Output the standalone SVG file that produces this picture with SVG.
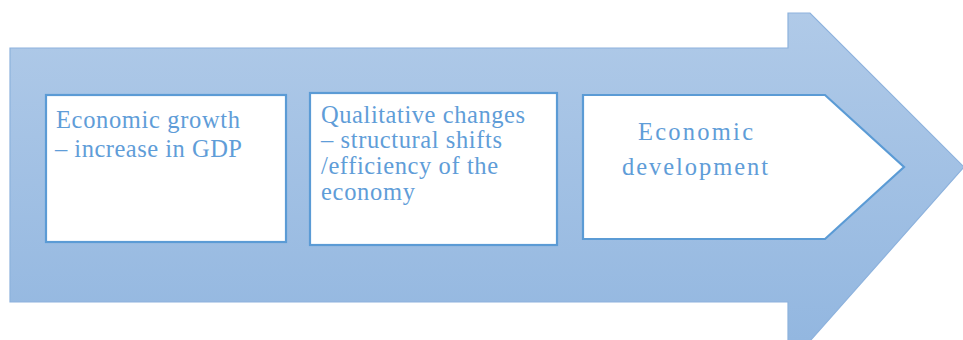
<svg xmlns="http://www.w3.org/2000/svg" width="963" height="340" viewBox="0 0 963 340">
  <style>
    .box { fill: #ffffff; stroke: #5B9BD5; stroke-width: 2.2; }
    .lbl { font-family: "Liberation Serif", "Times New Roman", serif; font-size: 24.5px; fill: #5F9DD8; }
  </style>
  <defs>
    <linearGradient id="band" x1="0" y1="13" x2="0" y2="340" gradientUnits="userSpaceOnUse">
      <stop offset="0" stop-color="#B0CAE8"/>
      <stop offset="1" stop-color="#93B7E0"/>
    </linearGradient>
  </defs>

  <!-- big process arrow -->
  <g id="process-arrow">
    <polygon points="10,48 788,48 788,13 810,13 964,167 810,341 788,341 788,302 10,302"
             fill="url(#band)" stroke="#8DB2DD" stroke-width="1.2"/>
  </g>

  <g id="step-growth">
    <rect class="box" x="46" y="95" width="240" height="147"/>
    <text class="lbl" x="56" y="128" textLength="184" lengthAdjust="spacing">Economic growth</text>
    <text class="lbl" x="55" y="157" textLength="187" lengthAdjust="spacing">– increase in GDP</text>
  </g>

  <g id="step-qualitative">
    <rect class="box" x="310" y="93" width="247" height="152"/>
    <text class="lbl" x="321" y="123" textLength="204" lengthAdjust="spacing">Qualitative changes</text>
    <text class="lbl" x="321" y="148" textLength="181" lengthAdjust="spacing">– structural shifts</text>
    <text class="lbl" x="321" y="174" textLength="177" lengthAdjust="spacing">/efficiency of the</text>
    <text class="lbl" x="321" y="200" textLength="94" lengthAdjust="spacing">economy</text>
  </g>

  <g id="step-development">
    <polygon class="box" points="583,95 825,95 904,167 825,239 583,239"/>
    <text class="lbl" x="638" y="140" textLength="115" lengthAdjust="spacing">Economic</text>
    <text class="lbl" x="622" y="175" textLength="146" lengthAdjust="spacing">development</text>
  </g>

  <g id="connectors"/>
</svg>
